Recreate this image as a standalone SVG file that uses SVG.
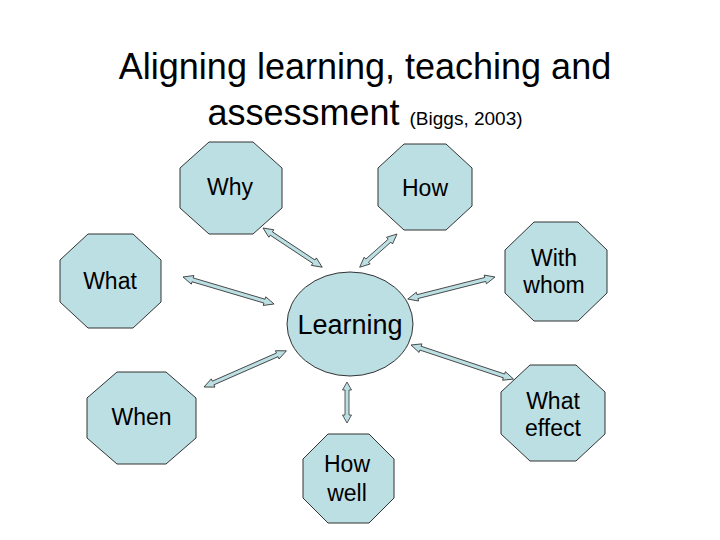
<svg xmlns="http://www.w3.org/2000/svg" width="720" height="540" viewBox="0 0 720 540">
<style>
.shape{fill:#bcdfe3;stroke:#333;stroke-width:1}
.arrow{fill:#bcdfe3;stroke:#333;stroke-width:0.8;stroke-linejoin:miter}
text{font-family:"Liberation Sans",Arial,sans-serif;fill:#000;text-anchor:middle}
.lbl{font-size:23px}
.title{font-size:36px}
.cite{font-size:19px}
</style>
<rect width="720" height="540" fill="#fff"/>
<g id="title">
<text class="title" x="365" y="79">Aligning learning, teaching and</text>
<text x="365" y="125"><tspan class="title">assessment </tspan><tspan class="cite">(Biggs, 2003)</tspan></text>
</g>
<g id="connectors">
<polygon class="arrow" points="0,0 10,-4.5 10,-2 61,-2 61,-4.5 71,0 61,4.5 61,2 10,2 10,4.5" transform="translate(263,228) rotate(33.5)"/>
<polygon class="arrow" points="0,0 10,-4.5 10,-2 40,-2 40,-4.5 50,0 40,4.5 40,2 10,2 10,4.5" transform="translate(397,234) rotate(138.3)"/>
<polygon class="arrow" points="0,0 10,-4.5 10,-2 85,-2 85,-4.5 95,0 85,4.5 85,2 10,2 10,4.5" transform="translate(183,277) rotate(16.5)"/>
<polygon class="arrow" points="0,0 10,-4.5 10,-2 80,-2 80,-4.5 90,0 80,4.5 80,2 10,2 10,4.5" transform="translate(495,277) rotate(165.8)"/>
<polygon class="arrow" points="0,0 10,-4.5 10,-2 98,-2 98,-4.5 108,0 98,4.5 98,2 10,2 10,4.5" transform="translate(411,345) rotate(18.4)"/>
<polygon class="arrow" points="0,0 10,-4.5 10,-2 80,-2 80,-4.5 90,0 80,4.5 80,2 10,2 10,4.5" transform="translate(204,387) rotate(-23.7)"/>
<polygon class="arrow" points="0,0 8,-4.5 8,-2 33,-2 33,-4.5 41,0 33,4.5 33,2 8,2 8,4.5" transform="translate(347,382) rotate(90)"/>
</g>
<g id="learning">
<ellipse class="shape" cx="350" cy="324" rx="63" ry="52"/>
<text x="350" y="334" style="font-size:27px">Learning</text>
</g>
<g id="why">
<polygon class="shape" points="209,142 253,142 282,168 282,208 253,234 209,234 180,208 180,168"/>
<text class="lbl" x="230" y="195">Why</text>
</g>
<g id="how">
<polygon class="shape" points="404,144 446,144 472,168 472,206 446,230 404,230 378,206 378,168"/>
<text class="lbl" x="425" y="196">How</text>
</g>
<g id="what">
<polygon class="shape" points="88,234 133,234 161,260 161,302 133,328 88,328 60,302 60,260"/>
<text class="lbl" x="110" y="289">What</text>
</g>
<g id="with-whom">
<polygon class="shape" points="534,222 578,222 607,250 607,293 578,321 534,321 505,293 505,250"/>
<text class="lbl" x="554" y="266">With</text>
<text class="lbl" x="554" y="293">whom</text>
</g>
<g id="what-effect">
<polygon class="shape" points="530,365 576,365 605,392 605,434 576,461 530,461 501,434 501,392"/>
<text class="lbl" x="553" y="409">What</text>
<text class="lbl" x="553" y="436">effect</text>
</g>
<g id="when">
<polygon class="shape" points="117,372 166,372 196,398 196,438 166,464 117,464 87,438 87,398"/>
<text class="lbl" x="141.5" y="425">When</text>
</g>
<g id="how-well">
<polygon class="shape" points="328,434 369,434 394,459 394,498 369,523 328,523 303,498 303,459"/>
<text class="lbl" x="347" y="472">How</text>
<text class="lbl" x="347" y="501">well</text>
</g>
</svg>
